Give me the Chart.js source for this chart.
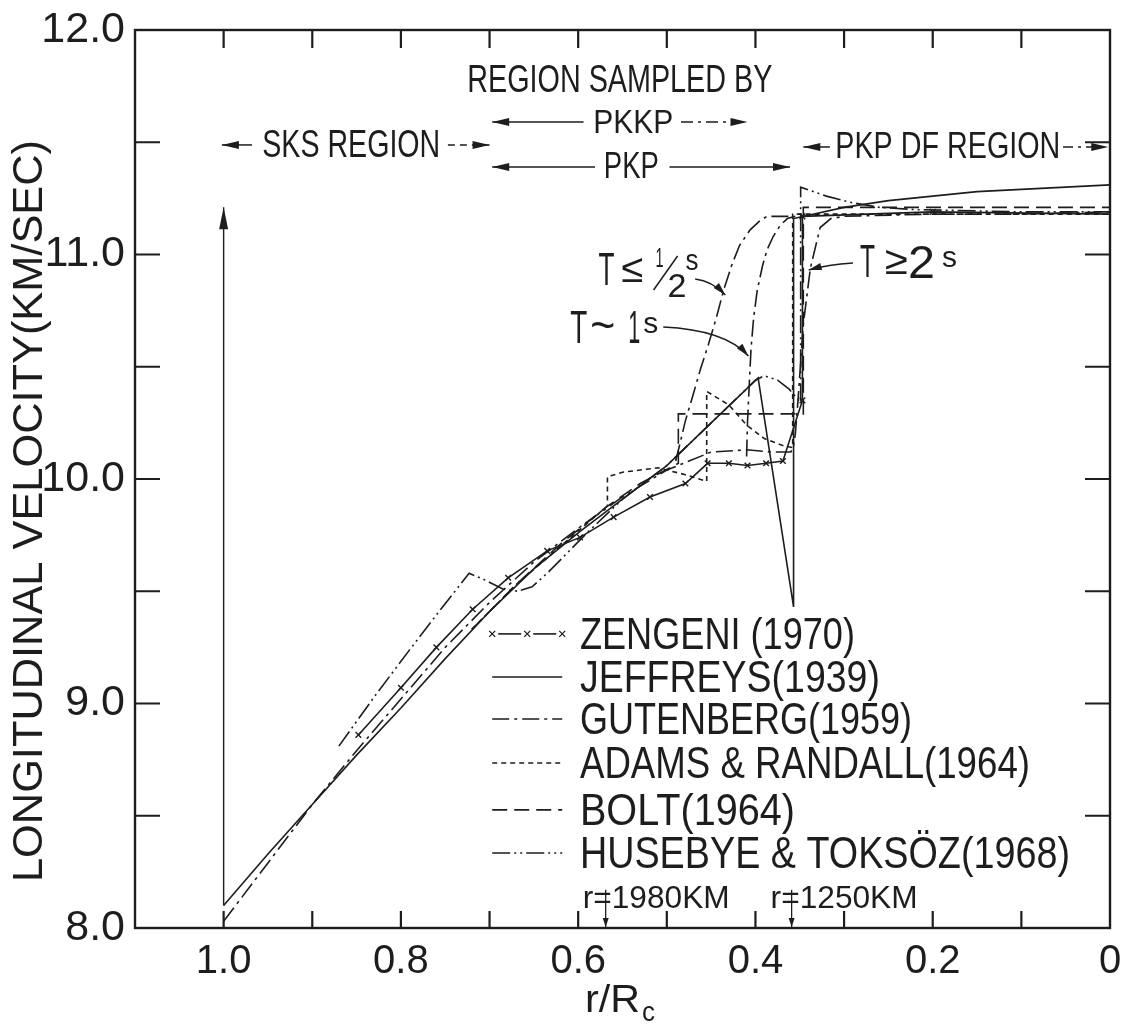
<!DOCTYPE html>
<html>
<head>
<meta charset="utf-8">
<title>Longitudinal velocity in the Earth's core</title>
<script src="https://cdn.jsdelivr.net/npm/chart.js@4.4.1/dist/chart.umd.min.js"></script>
<style>
  html, body { margin: 0; padding: 0; background: #fff; }
  canvas { display: block; }
</style>
</head>
<body>
<canvas id="chart" width="1122" height="1028"></canvas>
<script>
// ---------- axis ticks ----------
const xTickValues = [1.0, 0.8, 0.6, 0.4, 0.2, 0];
const xTickLabels = ['1.0', '0.8', '0.6', '0.4', '0.2', '0'];
const xMinorTicks = [0.1, 0.2, 0.3, 0.4, 0.5, 0.6, 0.7, 0.8, 0.9, 1.0];
const yTickValues = [8, 9, 10, 11, 12];
const yTickLabels = ['8.0', '9.0', '10.0', '11.0', '12.0'];
const yMinorTicks = [8.5, 9.0, 9.5, 10.0, 10.5, 11.0, 11.5];

// ---------- velocity models: r/Rc and P velocity (km/s) ----------
const zengeniR = [0.848, 0.8, 0.76, 0.719, 0.679, 0.635, 0.598, 0.56, 0.519, 0.479, 0.454, 0.43, 0.409, 0.388, 0.369, 0.347, 0.347, 0.2, 0];
const zengeniV = [8.86, 9.07, 9.25, 9.42, 9.56, 9.68, 9.74, 9.83, 9.92, 9.98, 10.07, 10.07, 10.06, 10.07, 10.08, 10.35, 11.17, 11.19, 11.18];

const jeffreysR = [1.0, 0.95, 0.9, 0.85, 0.8, 0.75, 0.7, 0.65, 0.6, 0.55, 0.5, 0.45, 0.397, 0.357, 0.357, 0.3, 0.25, 0.2, 0.15, 0.1, 0.05, 0];
const jeffreysV = [8.10, 8.33, 8.55, 8.77, 8.98, 9.20, 9.41, 9.60, 9.76, 9.91, 10.06, 10.25, 10.45, 9.43, 11.16, 11.21, 11.24, 11.26, 11.28, 11.29, 11.30, 11.31];

const gutenbergR = [1.0, 0.95, 0.9, 0.85, 0.8, 0.75, 0.7, 0.65, 0.6, 0.55, 0.5, 0.45, 0.41, 0.38, 0.36, 0.357, 0.355, 0.352, 0.346, 0.338, 0.327, 0.315, 0.3, 0.2, 0.1, 0];
const gutenbergV = [8.03, 8.29, 8.55, 8.79, 9.02, 9.25, 9.45, 9.63, 9.78, 9.92, 10.04, 10.12, 10.13, 10.12, 10.12, 10.15, 10.20, 10.35, 10.69, 10.94, 11.12, 11.16, 11.17, 11.18, 11.18, 11.19];

// Gutenberg transition zone as seen at short periods
const gutenbergHalfSecR = [0.49, 0.485, 0.479, 0.47, 0.462, 0.453, 0.444, 0.436, 0.427, 0.418, 0.406, 0.395, 0.387, 0.375, 0.36];
const gutenbergHalfSecV = [10.08, 10.16, 10.26, 10.38, 10.49, 10.60, 10.72, 10.84, 10.95, 11.04, 11.11, 11.15, 11.17, 11.17, 11.17];
const gutenbergOneSecR = [0.41, 0.409, 0.407, 0.405, 0.402, 0.398, 0.392, 0.387, 0.38, 0.372, 0.364, 0.355];
const gutenbergOneSecV = [10.10, 10.25, 10.42, 10.58, 10.72, 10.84, 10.95, 11.02, 11.08, 11.13, 11.16, 11.17];

const adamsR = [0.72, 0.67, 0.62, 0.567, 0.567, 0.55, 0.51, 0.48, 0.455, 0.455, 0.43, 0.41, 0.39, 0.37, 0.358, 0.358, 0.2, 0];
const adamsV = [9.33, 9.53, 9.70, 9.88, 10.01, 10.03, 10.05, 10.02, 9.99, 10.39, 10.33, 10.24, 10.18, 10.15, 10.14, 11.18, 11.18, 11.18];

const boltR = [0.72, 0.67, 0.62, 0.57, 0.53, 0.487, 0.487, 0.346, 0.346, 0];
const boltV = [9.33, 9.53, 9.71, 9.87, 9.98, 10.07, 10.29, 10.29, 11.21, 11.21];

const husebyeR = [0.87, 0.83, 0.79, 0.755, 0.723, 0.705, 0.685, 0.668, 0.652, 0.635, 0.615, 0.59, 0.55, 0.5, 0.45, 0.4, 0.39, 0.375, 0.362, 0.349, 0.349, 0.32, 0.29, 0.26, 0.22, 0.1, 0];
const husebyeV = [8.81, 9.03, 9.24, 9.42, 9.58, 9.55, 9.51, 9.50, 9.52, 9.58, 9.66, 9.76, 9.91, 10.06, 10.25, 10.44, 10.46, 10.44, 10.40, 10.34, 11.30, 11.26, 11.23, 11.21, 11.20, 11.19, 11.19];

// radii of the two marked levels (km) and the core radius (km)
const markedRadiiKm = [1980, 1250];
const coreRadiusKm = 3480;

// ---------- styling ----------
const INK = '#1d1d1d';
const FONT = '"Liberation Sans", Arial, sans-serif';
const SX = 0.8;   // lettering is drawn slightly condensed

const pts = (r, v) => r.map((x, i) => ({ x, y: v[i] }));

function series(label, r, v, dash, extra) {
  return Object.assign({
    label,
    data: pts(r, v),
    showLine: true,
    borderColor: INK,
    backgroundColor: INK,
    borderWidth: 1.6,
    borderDash: dash,
    pointRadius: 0,
    tension: 0,
    fill: false
  }, extra || {});
}

const DASH = {
  zengeni: [],
  jeffreys: [],
  gutenberg: [17, 5, 3, 5],
  adams: [5, 4],
  bolt: [15, 7],
  husebye: [18, 4, 2, 4, 2, 4]
};

const datasets = [
  series('ZENGENI (1970)', zengeniR, zengeniV, DASH.zengeni, {
    pointStyle: 'crossRot',
    pointRadius: (c) => (c.dataIndex === zengeniR.length - 1 ? 0 : 4),
    pointBorderWidth: 1.4,
    pointBorderColor: INK
  }),
  series('JEFFREYS(1939)', jeffreysR, jeffreysV, DASH.jeffreys),
  series('GUTENBERG(1959)', gutenbergR, gutenbergV, DASH.gutenberg),
  series('ADAMS & RANDALL(1964)', adamsR, adamsV, DASH.adams),
  series('BOLT(1964)', boltR, boltV, DASH.bolt),
  series('HUSEBYE & TOKSÖZ(1968)', husebyeR, husebyeV, DASH.husebye),
  series('T≤½s', gutenbergHalfSecR, gutenbergHalfSecV, DASH.gutenberg),
  series('T~1s', gutenbergOneSecR, gutenbergOneSecV, DASH.gutenberg)
];
const LEGEND_COUNT = 6;

// ---------- drawing helpers ----------
function text(ctx, s, x, y, size, width, align) {
  ctx.font = size + 'px ' + FONT;
  const m = ctx.measureText(s).width;
  const sx = width ? width / m : SX;
  ctx.save();
  ctx.translate(x, y);
  ctx.scale(sx, 1);
  ctx.textAlign = align || 'left';
  ctx.textBaseline = 'alphabetic';
  ctx.fillText(s, 0, 0);
  ctx.restore();
}

function head(ctx, x1, y1, x2, y2, len, half) {
  const a = Math.atan2(y2 - y1, x2 - x1);
  const c = Math.cos(a), s = Math.sin(a);
  ctx.setLineDash([]);
  ctx.beginPath();
  ctx.moveTo(x2, y2);
  ctx.lineTo(x2 - len * c + half * s, y2 - len * s - half * c);
  ctx.lineTo(x2 - len * c - half * s, y2 - len * s + half * c);
  ctx.closePath();
  ctx.fill();
}

function arrow(ctx, x1, y1, x2, y2, dash, len, half) {
  ctx.setLineDash(dash || []);
  ctx.beginPath();
  ctx.moveTo(x1, y1);
  ctx.lineTo(x2, y2);
  ctx.stroke();
  head(ctx, x1, y1, x2, y2, len || 16, half || 4);
}

function curvedArrow(ctx, x1, y1, cx, cy, x2, y2) {
  ctx.setLineDash([]);
  ctx.beginPath();
  ctx.moveTo(x1, y1);
  ctx.quadraticCurveTo(cx, cy, x2, y2);
  ctx.stroke();
  head(ctx, cx, cy, x2, y2, 13, 3.6);
}

// ---------- annotation layout (data coordinates) ----------
const regionRows = [
  { t: 'SKS REGION', cx: 0.856, base: 11.434, size: 39, w: 178, v: 11.488, left: [0.968, 1.002], right: [0.747, 0.700], rdash: [7, 5] },
  { t: 'PKKP', cx: 0.538, base: 11.541, size: 34, w: 80, v: 11.590, left: [0.594, 0.697], right: [0.484, 0.409], rdash: [12, 5, 3, 5] },
  { t: 'PKP', cx: 0.540, base: 11.341, size: 36, w: 55, v: 11.390, left: [0.581, 0.697], right: [0.497, 0.361], rdash: [] },
  { t: 'PKP DF REGION', cx: 0.183, base: 11.430, size: 36, w: 225, v: 11.479, left: [0.316, 0.346], right: [0.053, 0.002], rdash: [10, 5, 3, 5] }
];

const annotationPlugin = {
  id: 'coreAnnotations',
  afterDatasetsDraw(chart) {
    const { ctx, chartArea: A, scales: { x, y } } = chart;
    const X = (v) => x.getPixelForValue(v);
    const Y = (v) => y.getPixelForValue(v);
    ctx.save();
    ctx.fillStyle = INK;
    ctx.strokeStyle = INK;
    ctx.lineWidth = 1.5;

    // header text
    text(ctx, 'REGION SAMPLED BY', X(0.553), Y(11.724), 39, 305, 'center');

    // region arrows
    regionRows.forEach((r) => {
      text(ctx, r.t, X(r.cx), Y(r.base), r.size, r.w, 'center');
      arrow(ctx, X(r.left[0]), Y(r.v), X(r.left[1]), Y(r.v), [], 17, 4);
      arrow(ctx, X(r.right[0]), Y(r.v), X(r.right[1]), Y(r.v), r.rdash, 17, 4);
    });

    // vertical arrow at the core-mantle boundary
    ctx.lineWidth = 1.4;
    arrow(ctx, X(1.0), Y(jeffreysV[0]), X(1.0), Y(11.21), [], 22, 4.5);
    ctx.lineWidth = 1.5;

    // period labels
    let ax = X(0.577), ay = Y(10.864);
    text(ctx, 'T', ax, ay, 46, 16);
    text(ctx, '≤', ax + 23, ay - 3, 40, 22);
    text(ctx, '1', ax + 57, ay - 18, 28, 8);
    ctx.setLineDash([]);
    ctx.beginPath(); ctx.moveTo(ax + 55, ay + 5); ctx.lineTo(ax + 79, ay - 29); ctx.stroke();
    text(ctx, '2', ax + 69, ay + 12, 33, 19);
    text(ctx, 's', ax + 87, ay - 15, 30, 13);
    curvedArrow(ctx, X(0.468), Y(10.891), X(0.449), Y(10.882), X(0.434), Y(10.82));

    ax = X(0.609); ay = Y(10.606);
    text(ctx, 'T', ax, ay, 46, 17);
    text(ctx, '~', ax + 20, ay - 2, 46, 25);
    text(ctx, '1', ax + 58, ay, 46, 12);
    text(ctx, 's', ax + 73, ay - 10, 30, 15);
    curvedArrow(ctx, X(0.504), Y(10.677), X(0.434), Y(10.664), X(0.408), Y(10.548));

    ax = X(0.282); ay = Y(10.90);
    text(ctx, 'T', ax, ay, 46, 15);
    text(ctx, '≥', ax + 25, ay - 3, 40, 23);
    text(ctx, '2', ax + 48, ay + 1, 46, 27);
    text(ctx, 's', ax + 82, ay - 10, 30, 15);
    ctx.setLineDash([]);
    ctx.beginPath();
    ctx.moveTo(X(0.290), Y(10.962));
    ctx.quadraticCurveTo(X(0.318), Y(10.955), X(0.340), Y(10.931));
    ctx.stroke();
    head(ctx, X(0.318), Y(10.955), X(0.340), Y(10.931), 13, 3.6);

    // legend, built from the model datasets
    const legendRows = [9.31, 9.118, 8.931, 8.735, 8.526, 8.334];
    const legendWidths = [275, 300, 332, 450, 215, 490];
    const sx0 = X(0.697), sx1 = X(0.618), tx = X(0.598);
    chart.data.datasets.slice(0, LEGEND_COUNT).forEach((ds, i) => {
      const ly = Y(legendRows[i]);
      ctx.lineWidth = 1.6;
      if (ds.pointStyle === 'crossRot') {
        const xs = [sx0, (sx0 + sx1) / 2, sx1];
        ctx.setLineDash([]);
        for (let k = 0; k < 2; k++) {
          ctx.beginPath(); ctx.moveTo(xs[k] + 6, ly); ctx.lineTo(xs[k + 1] - 6, ly); ctx.stroke();
        }
        ctx.lineWidth = 1.3;
        xs.forEach((cx) => {
          ctx.beginPath();
          ctx.moveTo(cx - 3, ly - 3); ctx.lineTo(cx + 3, ly + 3);
          ctx.moveTo(cx - 3, ly + 3); ctx.lineTo(cx + 3, ly - 3);
          ctx.stroke();
        });
      } else {
        ctx.setLineDash(ds.borderDash || []);
        ctx.beginPath(); ctx.moveTo(sx0, ly); ctx.lineTo(sx1, ly); ctx.stroke();
      }
      ctx.setLineDash([]);
      text(ctx, ds.label, tx, ly + 15, 44, legendWidths[i]);
    });

    // marked radii with arrows to the axis
    ctx.lineWidth = 1.3;
    const rLabelW = [147, 147];
    const rLabelOffset = [-23, -21];
    markedRadiiKm.forEach((km, i) => {
      const rx = X(km / coreRadiusKm);
      text(ctx, 'r=' + km + 'KM', rx + rLabelOffset[i], Y(8.089), 31, rLabelW[i]);
      arrow(ctx, rx, Y(8.17), rx, A.bottom - 1, [], 9, 3);
    });

    ctx.restore();
  }
};

const framePlugin = {
  id: 'frameAndTicks',
  afterDraw(chart) {
    const { ctx, chartArea: A, scales: { x, y } } = chart;
    ctx.save();
    ctx.strokeStyle = INK;
    ctx.fillStyle = INK;
    ctx.setLineDash([]);
    ctx.lineWidth = 2.4;
    ctx.strokeRect(A.left, A.top, A.right - A.left, A.bottom - A.top);
    ctx.lineWidth = 2.2;
    ctx.beginPath();
    xMinorTicks.forEach((v) => {
      const px = x.getPixelForValue(v);
      ctx.moveTo(px, A.top); ctx.lineTo(px, A.top + 18);
      ctx.moveTo(px, A.bottom); ctx.lineTo(px, A.bottom - 17);
    });
    yMinorTicks.forEach((v) => {
      const py = y.getPixelForValue(v);
      ctx.moveTo(A.left, py); ctx.lineTo(A.left + 25, py);
      ctx.moveTo(A.right, py); ctx.lineTo(A.right - 25, py);
    });
    ctx.stroke();

    // axis titles
    text(ctx, 'r/R', 585, 1012, 39, 55);
    text(ctx, 'c', 642, 1021, 28, 13);
    ctx.save();
    ctx.translate(42, 511);
    ctx.rotate(-Math.PI / 2);
    text(ctx, 'LONGITUDINAL VELOCITY(KM/SEC)', 0, 0, 42, 742, 'center');
    ctx.restore();
    ctx.restore();
  }
};

Chart.defaults.font.family = FONT;
Chart.defaults.color = INK;

new Chart(document.getElementById('chart'), {
  type: 'scatter',
  data: { datasets },
  options: {
    responsive: false,
    animation: false,
    devicePixelRatio: 1,
    layout: { padding: { top: 30, right: 12, left: 0, bottom: 0 } },
    plugins: { legend: { display: false }, tooltip: { enabled: false } },
    scales: {
      x: {
        type: 'linear',
        reverse: true,
        min: 0,
        max: 1.1,
        afterFit(s) { s.height = 100; s.paddingLeft = 0; s.paddingRight = 0; },
        afterBuildTicks(s) { s.ticks = xTickValues.map((v) => ({ value: v })); },
        ticks: {
          autoSkip: false,
          maxRotation: 0,
          padding: 10,
          color: INK,
          font: { size: 40, family: FONT },
          callback: (v) => xTickLabels[xTickValues.indexOf(v)]
        },
        grid: { display: false, drawTicks: false },
        border: { display: false }
      },
      y: {
        type: 'linear',
        min: 8,
        max: 12,
        afterFit(s) { s.width = 135; s.paddingTop = 0; s.paddingBottom = 0; },
        afterBuildTicks(s) { s.ticks = yTickValues.map((v) => ({ value: v })); },
        ticks: {
          padding: 10,
          color: INK,
          font: { size: 43, family: FONT },
          callback: (v) => yTickLabels[yTickValues.indexOf(v)]
        },
        grid: { display: false, drawTicks: false },
        border: { display: false }
      }
    }
  },
  plugins: [annotationPlugin, framePlugin]
});
</script>
</body>
</html>
